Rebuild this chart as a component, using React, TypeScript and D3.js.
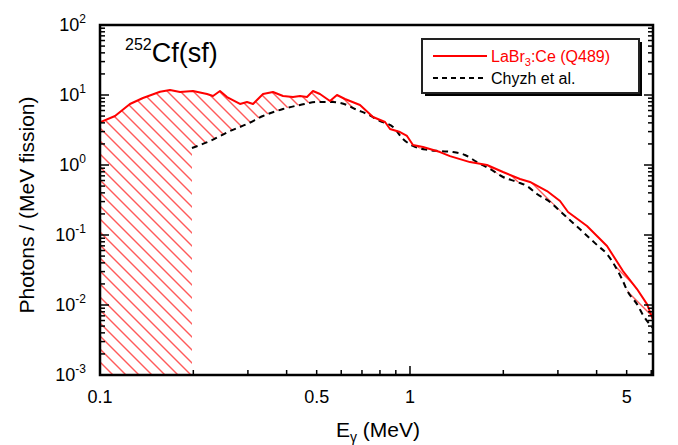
import * as d3 from 'd3';

// LaBr3:Ce (Q489) measured spectrum
const labrEnergy = [
  0.1, 0.1118, 0.1249, 0.1376, 0.1562, 0.1682, 0.1812, 0.1995, 0.2214, 0.2315,
  0.2438, 0.2569, 0.2829, 0.298, 0.3116, 0.3356, 0.3614, 0.3894, 0.4194, 0.4418,
  0.4653, 0.4864, 0.5123, 0.5519, 0.5814, 0.6169, 0.6403, 0.6898, 0.7598, 0.8308,
  0.8622, 0.9284, 0.978, 1.0225, 1.1015, 1.25, 1.3458, 1.5614, 1.7718, 1.9953,
  2.2637, 2.438, 2.7667, 3.0479, 3.2341, 3.7232, 4.3204, 4.8642, 5.3984, 5.8141,
  6.08,
];
const labrValue = [
  4.07, 5.01, 7.44, 9.06, 11.15, 11.79, 11.04, 11.41, 10.33, 9.68,
  11.41, 9.36, 7.44, 7.94, 7.44, 10.33, 11.04, 9.68, 9.36, 9.68,
  9.36, 11.41, 10.33, 8.21, 10.0, 8.77, 8.21, 7.2, 4.85, 4.11,
  3.27, 2.96, 2.6, 1.93, 1.81, 1.53, 1.34, 1.1, 1.0, 0.794,
  0.631, 0.572, 0.425, 0.306, 0.213, 0.1345, 0.0697, 0.0306, 0.0169, 0.0103,
  0.0062,
];

// Chyzh et al.
const chyzhEnergy = [
  0.198, 0.2264, 0.2627, 0.298, 0.3356, 0.3894, 0.4418, 0.5012, 0.5644, 0.6263,
  0.6647, 0.7266, 0.8003, 0.8815, 0.9494, 1.0225, 1.143, 1.25, 1.3761, 1.5044,
  1.645, 1.8117, 1.9953, 2.2139, 2.3845, 2.5682, 2.8289, 3.0479, 3.3566, 3.6141,
  4.0111, 4.3204, 4.5848, 4.8282, 5.0481, 5.3984, 5.644, 6.08,
];
const chyzhValue = [
  1.75, 2.2, 3.06, 3.85, 5.01, 6.31, 7.2, 7.94, 7.94, 7.2,
  6.31, 5.35, 4.25, 3.49, 2.35, 1.87, 1.64, 1.58, 1.53, 1.39,
  1.1, 0.877, 0.674, 0.572, 0.501, 0.385, 0.296, 0.22, 0.1484, 0.1104,
  0.072, 0.0535, 0.0361, 0.0235, 0.0153, 0.0103, 0.0072, 0.00469,
];

const xLabelTicks = [0.1, 0.5, 1, 5];
const yExponents = [-3, -2, -1, 0, 1, 2];

const W = 678;
const H = 445;
const margin = { top: 25, right: 25, bottom: 70, left: 100 };
const FONT = '"Liberation Sans", Arial, Helvetica, sans-serif';

type Pt = { e: number; v: number };

export default function App() {
  const left = margin.left;
  const right = W - margin.right;
  const top = margin.top;
  const bottom = H - margin.bottom;
  const ph = bottom - top;

  const x = d3.scaleLog().domain([0.1, 6.08]).range([left, right]);
  const y = d3.scaleLog().domain([1e-3, 1e2]).range([bottom, top]);

  const labr: Pt[] = labrEnergy.map((e, i) => ({ e, v: labrValue[i] }));
  const chyzh: Pt[] = chyzhEnergy.map((e, i) => ({ e, v: chyzhValue[i] }));

  const redLine = d3.line<Pt>().x(d => x(d.e)).y(d => y(d.v));
  const blackLine = d3.line<Pt>().x(d => x(d.e)).y(d => y(d.v)).curve(d3.curveMonotoneX);
  const redArea = d3.area<Pt>().x(d => x(d.e)).y0(bottom).y1(d => y(d.v));
  const blackArea = d3.area<Pt>().x(d => x(d.e)).y0(bottom + 2).y1(d => y(d.v)).curve(d3.curveMonotoneX);

  // tick positions
  const xTicks: { v: number; major: boolean }[] = [];
  for (let k = 1; k <= 9; k++) xTicks.push({ v: k / 10, major: k === 1 });
  for (let k = 1; k <= 6; k++) xTicks.push({ v: k, major: k === 1 });
  const yTicks: { v: number; major: boolean }[] = [];
  for (let p = -3; p <= 1; p++) {
    for (let k = 1; k <= 9; k++) yTicks.push({ v: k * Math.pow(10, p), major: k === 1 });
  }
  yTicks.push({ v: 100, major: true });

  // diagonal hatch lines over the plot, masked to the shaded region
  const hatchOffsets = d3.range(-ph, right - left, 13);

  return (
    <svg width={W} height={H} style={{ position: 'absolute', left: 0, top: 0, fontFamily: FONT }}>
      <defs>
        <mask id="hatchMask" maskUnits="userSpaceOnUse" x={0} y={0} width={W} height={H}>
          <path d={redArea(labr) || ''} fill="white" />
          <path d={blackArea(chyzh) || ''} fill="black" />
        </mask>
        <clipPath id="plotClip">
          <rect x={left} y={top} width={right - left} height={ph} />
        </clipPath>
      </defs>

      <g clipPath="url(#plotClip)">
        <g mask="url(#hatchMask)">
          {hatchOffsets.map(c => (
            <line
              key={'h' + c}
              x1={left + c}
              y1={top}
              x2={left + c + ph}
              y2={bottom}
              stroke="#ff5a5a"
              strokeWidth={1.4}
            />
          ))}
        </g>
        <path d={blackLine(chyzh) || ''} fill="none" stroke="black" strokeWidth={2} strokeDasharray="6,4.5" />
        <path d={redLine(labr) || ''} fill="none" stroke="#ff0000" strokeWidth={2} strokeLinejoin="round" />
      </g>

      {/* ticks */}
      {xTicks.map(t => (
        <line
          key={'xt' + t.v}
          x1={x(t.v)}
          x2={x(t.v)}
          y1={bottom}
          y2={bottom - (t.major ? 9 : 5)}
          stroke="black"
          strokeWidth={1.5}
        />
      ))}
      {yTicks.map(t => (
        <g key={'yt' + t.v}>
          <line x1={left} x2={left + (t.major ? 9 : 5)} y1={y(t.v)} y2={y(t.v)} stroke="black" strokeWidth={1.5} />
          <line x1={right} x2={right - (t.major ? 9 : 5)} y1={y(t.v)} y2={y(t.v)} stroke="black" strokeWidth={1.5} />
        </g>
      ))}

      <rect x={left} y={top} width={right - left} height={ph} fill="none" stroke="black" strokeWidth={2.5} />

      {/* tick labels */}
      {xLabelTicks.map(t => (
        <text key={'xl' + t} x={x(t)} y={bottom + 28} textAnchor="middle" fontSize={18}>
          {t}
        </text>
      ))}
      {yExponents.map(p => (
        <text key={'yl' + p} x={86} y={y(Math.pow(10, p)) + 6} textAnchor="end" fontSize={18}>
          10
          <tspan dy={-8} fontSize={12}>
            {p}
          </tspan>
        </text>
      ))}

      {/* axis titles */}
      <text x={378} y={437} textAnchor="middle" fontSize={21}>
        E<tspan fontSize={14} dy={5}>γ</tspan>
        <tspan dy={-5}> (MeV)</tspan>
      </text>
      <text transform={`translate(34,${(top + bottom) / 2 + 5}) rotate(-90)`} textAnchor="middle" fontSize={21}>
        Photons / (MeV fission)
      </text>

      {/* title */}
      <text x={125} y={62} fontSize={27}>
        <tspan fontSize={16} dy={-12}>252</tspan>
        <tspan dy={12}>Cf(sf)</tspan>
      </text>

      {/* legend */}
      <rect x={425} y={42} width={217} height={54} fill="black" />
      <rect x={422} y={39} width={217} height={54} fill="white" stroke="#222" strokeWidth={2} />
      <line x1={433} x2={487} y1={56} y2={56} stroke="#ff0000" strokeWidth={2} />
      <text x={491} y={62} fontSize={16} fill="#ff0000">
        LaBr<tspan fontSize={11} dy={4}>3</tspan>
        <tspan dy={-4}>:Ce (Q489)</tspan>
      </text>
      <line x1={433} x2={487} y1={78} y2={78} stroke="black" strokeWidth={2} strokeDasharray="5,4" />
      <text x={491} y={84} fontSize={16}>
        Chyzh et al.
      </text>
    </svg>
  );
}
